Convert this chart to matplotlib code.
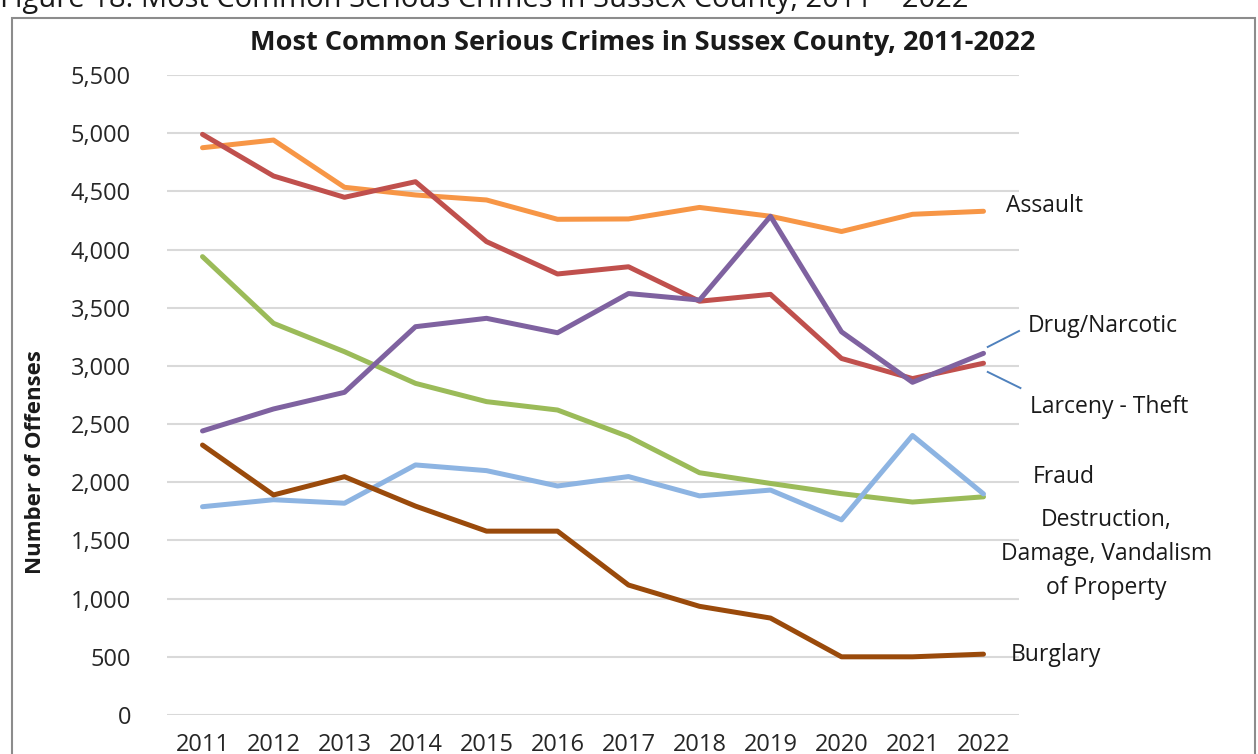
import matplotlib.pyplot as plt
from matplotlib.patches import Rectangle

# data
years = ["2011", "2012", "2013", "2014", "2015", "2016",
         "2017", "2018", "2019", "2020", "2021", "2022"]

assault = [4875, 4941, 4535, 4469, 4426, 4260, 4263, 4362, 4286, 4155, 4303, 4329]
larceny = [4990, 4632, 4449, 4583, 4068, 3790, 3852, 3556, 3615, 3064, 2891, 3023]
drug = [2441, 2630, 2773, 3337, 3409, 3285, 3622, 3566, 4286, 3293, 2859, 3108]
destruction = [3939, 3366, 3122, 2850, 2693, 2621, 2392, 2082, 1990, 1902, 1830, 1875]
fraud = [1790, 1850, 1820, 2149, 2100, 1968, 2049, 1883, 1933, 1677, 2402, 1900]
burglary = [2320, 1891, 2048, 1795, 1580, 1580, 1117, 934, 833, 500, 500, 523]

yticks = [0, 500, 1000, 1500, 2000, 2500, 3000, 3500, 4000, 4500, 5000, 5500]

plt.rcParams["font.family"] = ["Open Sans", "DejaVu Sans"]

fig = plt.figure(figsize=(12.58, 7.54), dpi=100)
ax = fig.add_axes([167 / 1258, 39 / 754, 852 / 1258, 640 / 754])

x = list(range(len(years)))
series = [
    (assault, "#F79646"),
    (larceny, "#C0504D"),
    (destruction, "#9BBB59"),
    (fraud, "#8DB4E2"),
    (burglary, "#9A4A0B"),
    (drug, "#7F62A0"),
]
for vals, col in series:
    ax.plot(x, vals, color=col, lw=3.6, solid_capstyle="round", zorder=3)

ax.set_xlim(-0.5, 11.5)
ax.set_ylim(0, 5500)
ax.set_yticks(yticks)
ax.set_yticklabels([f"{v:,}" for v in yticks])
ax.set_xticks(x)
ax.set_xticklabels(years)
ax.grid(axis="y", color="#d9d9d9", lw=1.5, zorder=0)
ax.tick_params(length=0, labelsize=17, colors="#262626")
ax.tick_params(axis="y", pad=26)
ax.tick_params(axis="x", pad=13)
for s in ax.spines.values():
    s.set_visible(False)

ax.set_ylabel("Number of Offenses", fontsize=16, fontweight="bold", color="#1a1a1a")
ax.yaxis.set_label_coords(-0.142, 0.395)
fig.text(643 / 1258, 1 - 43 / 754, "Most Common Serious Crimes in Sussex County, 2011-2022",
         fontsize=19.5, fontweight="bold", ha="center", va="center", color="#1a1a1a")

# series labels on the right
lab = dict(fontsize=16.5, color="#1a1a1a", va="center", clip_on=False)
ax.text(11.32, 4374, "Assault", ha="left", **lab)
ax.text(11.63, 3343, "Drug/Narcotic", ha="left", **lab)
ax.text(11.66, 2647, "Larceny - Theft", ha="left", **lab)
ax.text(11.70, 2045, "Fraud", ha="left", **lab)
ax.text(12.73, 1384, "Destruction,\nDamage, Vandalism\nof Property", ha="center",
        linespacing=1.55, **lab)
ax.text(11.39, 516, "Burglary", ha="left", **lab)

# leader lines
ax.plot([11.06, 11.5], [3163, 3300], color="#4F81BD", lw=1.4, clip_on=False)
ax.plot([11.06, 11.52], [2948, 2810], color="#4F81BD", lw=1.4, clip_on=False)

# chart border and cut caption above it
fig.patches.append(Rectangle((12 / 1258, -0.05), 1243 / 1258, 1.05 - 18 / 754,
                             transform=fig.transFigure, fill=False,
                             edgecolor="#8c8c8c", lw=1.5))
fig.text(0.0, 1.0, "Figure 18: Most Common Serious Crimes in Sussex County, 2011 – 2022",
         fontsize=21, ha="left", va="center", color="#1a1a1a")

fig.savefig("out.png", dpi=100)
